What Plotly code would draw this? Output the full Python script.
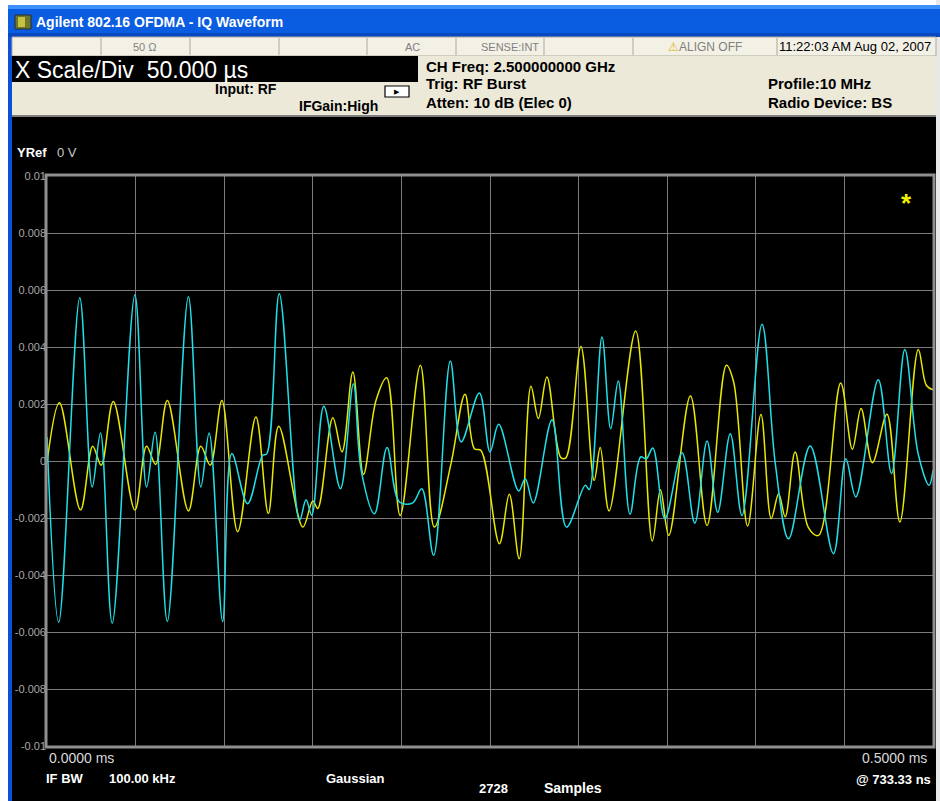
import plotly.graph_objects as go

# ---------------- data (time in ms, amplitude in mV) ----------------
i_time_ms = [0.0, 0.0066, 0.0185, 0.0255, 0.0302, 0.0368, 0.0496, 0.0562, 0.0610, 0.0679,
             0.0798, 0.0868, 0.0915, 0.0991, 0.1043, 0.1132, 0.1217, 0.1240, 0.1311,
             0.1425, 0.1462, 0.1494, 0.1562, 0.1656, 0.1729, 0.1773, 0.1848, 0.1919,
             0.1989, 0.2064, 0.2115, 0.2182, 0.2276, 0.2337, 0.2440, 0.2500, 0.2549,
             0.2662, 0.2699, 0.2744, 0.2850, 0.2932, 0.3038, 0.3060, 0.3132, 0.3181,
             0.3224, 0.3290, 0.3350, 0.3382, 0.3419, 0.3487, 0.3584, 0.3656, 0.3725,
             0.3785, 0.3856, 0.3922, 0.4035, 0.4110, 0.4185, 0.4307, 0.4438, 0.4508,
             0.4564, 0.4691, 0.4766, 0.4841, 0.4916, 0.4978, 0.5000]
i_mv = [0.84, -5.66, 5.73, -0.91, 0.98, -5.69, 5.83, -0.91, 1.01, -5.63,
        5.76, -0.91, 0.98, -5.63, 0.26, -1.50, 0.20, 0.25, 5.87,
        -2.08, -1.36, -1.90, 1.92, -0.97, 2.71, -0.33, -1.85, 0.47,
        -1.44, -1.47, -0.97, -3.31, 3.51, 0.67, 2.39, 0.32, 1.29,
        -1.05, -0.62, -1.47, 1.45, -2.32, -0.85, -1.00, 4.35, 1.13,
        2.81, -1.87, 0.14, 0.08, 0.46, -2.02, 0.29, -2.18, 0.70,
        -1.80, 0.96, -1.91, 4.80, -0.09, -2.73, 0.53, -3.25, 0.08,
        -1.26, 2.85, -0.44, 3.91, 0.26, -0.85, -0.33]

q_time_ms = [0.0, 0.0070, 0.0189, 0.0258, 0.0306, 0.0374, 0.0496, 0.0562, 0.0613, 0.0679,
             0.0798, 0.0868, 0.0921, 0.0987, 0.1076, 0.1179, 0.1249, 0.1308,
             0.1444, 0.1500, 0.1528, 0.1613, 0.1665, 0.1726, 0.1786, 0.1857, 0.1917,
             0.1993, 0.2107, 0.2186, 0.2280, 0.2359, 0.2412, 0.2449, 0.2553, 0.2609,
             0.2665, 0.2731, 0.2773, 0.2821, 0.2900, 0.2928, 0.3013, 0.3088, 0.3122,
             0.3172, 0.3322, 0.3416, 0.3462, 0.3509, 0.3631, 0.3725, 0.3834, 0.3875,
             0.3954, 0.4029, 0.4087, 0.4129, 0.4166, 0.4222, 0.4297, 0.4354, 0.4479,
             0.4545, 0.4594, 0.4658, 0.4740, 0.4813, 0.4917, 0.4963, 0.5000]
q_mv = [-0.07, 2.04, -1.72, 0.52, -0.15, 2.09, -1.72, 0.52, -0.12, 2.12,
        -1.75, 0.52, -0.15, 2.12, -2.48, 1.54, -1.84, 1.22,
        -2.32, -1.40, -1.67, 1.52, 0.32, 3.12, -0.47, 2.13, 2.92,
        -1.91, 3.36, -2.32, -0.09, 2.34, 0.43, 0.37, -2.90, -1.17,
        -3.43, 2.62, 1.49, 2.95, 0.12, 0.11, 4.02, -0.68, 0.47,
        -1.75, 4.56, -2.81, -1.01, -2.61, 2.28, -2.26, 3.36, 2.77,
        -2.28, 1.63, -2.02, -1.15, -1.96, 0.32, -2.34, -2.61, 2.74,
        0.41, 1.84, -0.06, 1.64, -2.14, 3.91, 2.65, 2.50]

y_tick_vals = [0.01, 0.008, 0.006, 0.004, 0.002, 0.0, -0.002, -0.004, -0.006, -0.008, -0.01]
y_tick_text = ["0.01", "0.008", "0.006", "0.004", "0.002", "0", "-0.002", "-0.004", "-0.006", "-0.008", "-0.01"]

# ---------------- geometry helpers (pixel -> paper) ----------------
W, H = 940, 801
L, R, T, B = 47, 933, 176, 746


def px(x):
    return (x - L) / (R - L)


def py(y):
    return (B - y) / (B - T)


FONT = "Liberation Sans, Arial, sans-serif"

fig = go.Figure()
fig.add_trace(go.Scatter(x=q_time_ms, y=[v * 1e-3 for v in q_mv], mode="lines",
                         line=dict(color="#e8e800", width=1.5, shape="spline"),
                         name="Q", hoverinfo="skip"))
fig.add_trace(go.Scatter(x=i_time_ms, y=[v * 1e-3 for v in i_mv], mode="lines",
                         line=dict(color="#1fe0e8", width=1.5, shape="spline"),
                         name="I", hoverinfo="skip"))

shapes = []


def rect(x0, y0, x1, y1, fill, line_color=None, lw=0, layer="above"):
    shapes.append(dict(type="rect", xref="paper", yref="paper",
                       x0=px(x0), x1=px(x1), y0=py(y1), y1=py(y0),
                       fillcolor=fill, layer=layer,
                       line=dict(color=line_color or fill, width=lw)))


def line(x0, y0, x1, y1, color, lw=1):
    shapes.append(dict(type="line", xref="paper", yref="paper",
                       x0=px(x0), x1=px(x1), y0=py(y0), y1=py(y1),
                       line=dict(color=color, width=lw), layer="above"))


# window frame
rect(0, 0, 940, 5, "#ffffff")
rect(0, 0, 8, 801, "#ffffff")
rect(936, 0, 940, 801, "#e8e8e8")
rect(8, 5, 940, 37, "#0a5ce0")
rect(8, 5, 940, 9, "#3d8eff")
rect(8, 33, 940, 37, "#0848c0")
rect(8, 37, 12, 801, "#0a50d8")
# app icon
rect(15, 15, 31, 29, "#6b7a2a", "#2a2a2a", 1)
rect(18, 17, 25, 27, "#c8c040")
# status row
rect(12, 37, 936, 56, "#f3f1e6", "#aca899", 1)
for xd in [101, 190, 279, 367, 456, 544, 633, 777]:
    line(xd, 38, xd, 55, "#aca899", 1)
# header
rect(12, 56, 936, 116, "#ece9d8")
rect(12, 56, 418, 82, "#000000")
line(12, 116, 936, 116, "#808080", 2)
# trigger icon
shapes.append(dict(type="rect", xref="paper", yref="paper",
                   x0=px(385), x1=px(409), y0=py(97), y1=py(86),
                   line=dict(color="#000000", width=1.2), fillcolor="#ffffff", layer="above"))
# plot frame
rect(L - 1, T - 1, R + 1, B + 1, "rgba(0,0,0,0)", "#8f8f8f", 3)

annotations = []


def ann(text, x, y, size=12, color="#000000", bold=False, xanchor="left", family=FONT):
    if bold:
        text = "<b>" + text + "</b>"
    annotations.append(dict(text=text, x=px(x), y=py(y), xref="paper", yref="paper",
                            xanchor=xanchor, yanchor="middle", showarrow=False,
                            font=dict(size=size, color=color, family=family)))


ann("Agilent 802.16 OFDMA - IQ Waveform", 34, 22, 14, "#ffffff", True)
ann("50 Ω", 145, 47, 11, "#808080", xanchor="center")
ann("AC", 412, 47, 11, "#808080", xanchor="center")
ann("SENSE:INT", 510, 47, 11, "#808080", xanchor="center")
ann('<span style="color:#e0b000">⚠</span>ALIGN OFF', 705, 47, 12, "#808080", xanchor="center")
ann("11:22:03 AM Aug 02, 2007", 777, 47, 13, "#000000")
ann("X Scale/Div  50.000 µs", 13, 70, 23, "#ffffff")
ann("Input: RF", 213, 89, 14, "#000000", True)
ann("IFGain:High", 297, 106, 14, "#000000", True)
ann("CH Freq: 2.500000000 GHz", 424, 66, 15, "#000000", True)
ann("Trig: RF Burst", 424, 84, 15, "#000000", True)
ann("Atten: 10 dB (Elec 0)", 424, 102, 15, "#000000", True)
ann("Profile:10 MHz", 766, 84, 15, "#000000", True)
ann("Radio Device: BS", 766, 102, 15, "#000000", True)
ann("▶", 397, 92, 7, "#000000", xanchor="center")
ann("<b>YRef</b>", 15, 152, 13, "#ffffff")
ann("0 V", 55, 152, 13, "#c8c8c8")
ann("*", 906, 203, 26, "#f0f000", True, xanchor="center")
ann("0.0000 ms", 47, 758, 14, "#d8d8d8")
ann("0.5000 ms", 929, 758, 14, "#d8d8d8", xanchor="right")
ann("IF BW", 44, 778, 13, "#ffffff", True)
ann("100.00 kHz", 107, 778, 13, "#ffffff", True)
ann("Gaussian", 324, 778, 13, "#ffffff", True)
ann("2728", 477, 788, 13, "#ffffff", True)
ann("Samples", 542, 788, 14, "#ffffff", True)
ann("@ 733.33 ns", 933, 779, 13, "#ffffff", True, xanchor="right")

fig.update_layout(
    width=W, height=H,
    margin=dict(l=L, r=W - R, t=T, b=H - B, pad=0),
    paper_bgcolor="#000000", plot_bgcolor="#000000",
    showlegend=False,
    shapes=shapes, annotations=annotations,
    font=dict(family=FONT),
    xaxis=dict(range=[0, 0.5], dtick=0.05, tick0=0, showticklabels=False,
               showgrid=True, gridcolor="#7c7c7c", gridwidth=1, zeroline=False,
               ticks="", fixedrange=True),
    yaxis=dict(range=[-0.01, 0.01], tickvals=y_tick_vals, ticktext=y_tick_text,
               showgrid=True, gridcolor="#7c7c7c", gridwidth=1, zeroline=False,
               ticks="", tickfont=dict(size=11, color="#a8a8a8", family=FONT),
               fixedrange=True),
)

fig.write_html("out.html", config={"displayModeBar": False},
               post_script="document.body.style.margin='0px';document.body.style.overflow='hidden';")
